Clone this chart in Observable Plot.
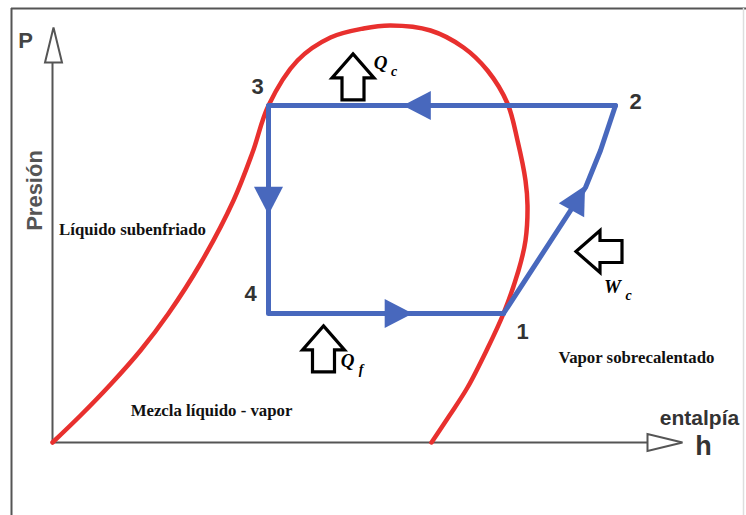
<!DOCTYPE html>
<html><head><meta charset="utf-8">
<script src="https://cdn.jsdelivr.net/npm/d3@7"></script>
<script src="https://cdn.jsdelivr.net/npm/@observablehq/plot@0.6"></script>
<style>body{margin:0;background:#fff}</style>
</head><body><div id="chart"></div>
<script>
// Saturation dome (enthalpy h, pressure P, arbitrary units)
const domeH = [0, 5.6, 11.6, 17.6, 23.2, 29.6, 36.2, 40, 43.2, 49, 55.6, 62.2, 67.6, 75.6, 82.2, 87, 91, 93, 94.6, 95, 94.6, 93.2, 90.2, 86.8, 83, 79.4, 75.8];
const domeP = [0, 6.75, 14.5, 23, 32.25, 44.75, 60.5, 72.5, 84.25, 95.5, 101.25, 103.5, 104.25, 103, 98.75, 93, 84.75, 75.5, 65.5, 59.25, 50.5, 43, 32.25, 23, 13.75, 6.75, 0];

// Cycle states
const stateNames = ["1", "2", "3", "4"];
const stateH = [90.2, 112.6, 43.2, 43.2];
const stateP = [32.25, 84.25, 84.25, 32.25];
// label positions for the state numbers
const stateLabelH = [94, 116.6, 41, 39.6];
const stateLabelP = [27.75, 85.25, 89, 37.25];

// Path 1 -> 4 -> 3 -> 2 (evaporation, expansion, condensation)
const loopH = [90.2, 43.2, 43.2, 112.6];
const loopP = [32.25, 32.25, 84.25, 84.25];
// Compression 1 -> 2
const compH = [90.2, 106.6, 109.6, 112.6];
const compP = [32.25, 63.75, 73, 84.25];

// Flow-direction arrows on the cycle
const flowH = [73.8, 43.2, 68.3, 104.7];
const flowP = [84.25, 61.6, 32.25, 60.1];
const flowRot = [-90, 180, 90, 29];

// Heat / work block arrows
const heatH = [60.1, 54.2, 109.3];
const heatP = [91.4, 23.4, 47.75];
const heatRot = [0, 0, -90];
const heatMain = ["Q", "Q", "W"];
const heatMainH = [65.6, 59, 112];
const heatMainP = [95, 20.5, 39];
const heatSub = ["c", "f", "c"];
const heatSubH = [68.3, 61.7, 115.2];
const heatSubP = [92.8, 18.3, 36.8];

// Region labels
const regionNames = ["Líquido subenfriado", "Mezcla líquido - vapor", "Vapor sobrecalentado"];
const regionH = [16, 31.8, 116.8];
const regionP = [53.25, 8, 21.25];

// Axis
const hAxisEnd = 119;
const pAxisEnd = 95;
const frameLeft = -8.2, frameTop = 108.5, frameRight = 138.2;

const dome = domeH.map((h, i) => ({h, P: domeP[i]}));
const loop = loopH.map((h, i) => ({h, P: loopP[i]}));
const comp = compH.map((h, i) => ({h, P: compP[i]}));
const flows = flowH.map((h, i) => ({h, P: flowP[i], r: flowRot[i]}));
const heats = heatH.map((h, i) => ({h, P: heatP[i], r: heatRot[i]}));
const mains = heatMain.map((t, i) => ({t, h: heatMainH[i], P: heatMainP[i]}));
const subs = heatSub.map((t, i) => ({t, h: heatSubH[i], P: heatSubP[i]}));
const states = stateNames.map((t, i) => ({t, h: stateLabelH[i], P: stateLabelP[i]}));
const regions = regionNames.map((t, i) => ({t, h: regionH[i], P: regionP[i]}));

const flowTri = {draw(ctx) { const L = 28, W = 29; ctx.moveTo(0, -2 * L / 3); ctx.lineTo(W / 2, L / 3); ctx.lineTo(-W / 2, L / 3); ctx.closePath(); }};
const blockArrow = {draw(ctx) { const L = 46, H = 24, W = 42, S = 22; const t = -L / 2, hb = t + H, b = L / 2;
  ctx.moveTo(0, t); ctx.lineTo(W / 2, hb); ctx.lineTo(S / 2, hb); ctx.lineTo(S / 2, b); ctx.lineTo(-S / 2, b); ctx.lineTo(-S / 2, hb); ctx.lineTo(-W / 2, hb); ctx.closePath(); }};
const axisHead = {draw(ctx) { const L = 35, W = 17; ctx.moveTo(0, -L); ctx.lineTo(W / 2, 0); ctx.lineTo(-W / 2, 0); ctx.closePath(); }};

const RED = "#e8302e", BLUE = "#4868bd";
const sans = "Liberation Sans, Arial, sans-serif";
const serif = "Liberation Serif, Times New Roman, serif";

const plot = Plot.plot({
  width: 746, height: 515,
  marginTop: 0, marginRight: 0, marginBottom: 0, marginLeft: 0,
  x: {domain: [-10.4, 138.8], axis: null},
  y: {domain: [-18.25, 110.5], axis: null},
  style: {background: "#fff", overflow: "visible"},
  marks: [
    // frame
    Plot.ruleX([frameLeft], {y1: -18.25, y2: frameTop, stroke: "#555", strokeWidth: 2}),
    Plot.ruleY([frameTop], {x1: frameLeft, x2: 138.8, stroke: "#555", strokeWidth: 2}),
    Plot.ruleX([frameRight], {y1: -18.25, y2: frameTop, stroke: "#ddd", strokeWidth: 1.5}),
    // axes
    Plot.ruleX([0], {y1: 0, y2: pAxisEnd, stroke: "#555", strokeWidth: 2}),
    Plot.ruleY([0], {x1: 0, x2: hAxisEnd, stroke: "#555", strokeWidth: 2}),
    Plot.dot([{h: 0.2, P: pAxisEnd, r: 0}, {h: hAxisEnd, P: 0, r: 90}], {x: "h", y: "P", rotate: "r", symbol: axisHead, fill: "#fff", stroke: "#555", strokeWidth: 2}),
    // dome
    Plot.line(dome, {x: "h", y: "P", curve: "catmull-rom", stroke: RED, strokeWidth: 4.5}),
    // cycle
    Plot.line(loop, {x: "h", y: "P", stroke: BLUE, strokeWidth: 5, strokeLinejoin: "round"}),
    Plot.line(comp, {x: "h", y: "P", stroke: BLUE, strokeWidth: 5, strokeLinejoin: "round"}),
    Plot.dot(flows, {x: "h", y: "P", rotate: "r", symbol: flowTri, fill: BLUE, stroke: "none"}),
    // heat/work arrows
    Plot.dot(heats, {x: "h", y: "P", rotate: "r", symbol: blockArrow, fill: "#fff", stroke: "#000", strokeWidth: 3.2, strokeLinejoin: "miter"}),
    Plot.text(mains, {x: "h", y: "P", text: "t", fontSize: 19, fontWeight: "bold", fontStyle: "italic", fontFamily: serif, fill: "#000"}),
    Plot.text(subs, {x: "h", y: "P", text: "t", fontSize: 14, fontWeight: "bold", fontStyle: "italic", fontFamily: serif, fill: "#000"}),
    // state numbers
    Plot.text(states, {x: "h", y: "P", text: "t", fontSize: 22, fontWeight: "bold", fontFamily: sans, fill: "#333"}),
    // region labels
    Plot.text(regions, {x: "h", y: "P", text: "t", fontSize: 16.8, fontWeight: "bold", fontFamily: serif, fill: "#111"}),
    // axis labels
    Plot.text([{t: "P", h: -5.4, P: 100.5}], {x: "h", y: "P", text: "t", fontSize: 22, fontWeight: "bold", fontFamily: sans, fill: "#444"}),
    Plot.text([{t: "Presión", h: -3.6, P: 63}], {x: "h", y: "P", text: "t", rotate: -90, fontSize: 22, fontWeight: "bold", fontFamily: sans, fill: "#555"}),
    Plot.text([{t: "entalpía", h: 129.4, P: 6}], {x: "h", y: "P", text: "t", fontSize: 21, fontWeight: "bold", fontFamily: sans, fill: "#333"}),
    Plot.text([{t: "h", h: 130.2, P: -0.9}], {x: "h", y: "P", text: "t", fontSize: 27, fontWeight: "bold", fontFamily: sans, fill: "#333"})
  ]
});
document.getElementById("chart").append(plot);
</script></body></html>
